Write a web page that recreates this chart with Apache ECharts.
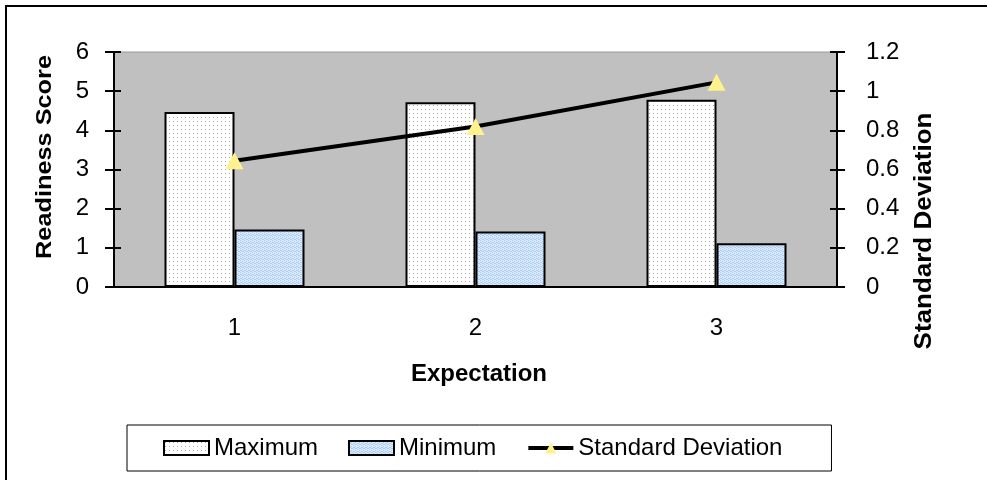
<!DOCTYPE html>
<html>
<head>
<meta charset="utf-8">
<script src="https://cdn.jsdelivr.net/npm/echarts@6/dist/echarts.min.js"></script>
<style>
  html, body { margin: 0; padding: 0; background: #fff; }
  #chart { width: 987px; height: 480px; }
</style>
</head>
<body>
<div id="chart"></div>
<script>
// Chart data
const categories = ['1', '2', '3'];
const maximumValues = [4.47, 4.72, 4.78];
const minimumValues = [1.47, 1.42, 1.12];
const stdDevValues = [0.645, 0.82, 1.045];
const leftTicks = { min: 0, max: 6, interval: 1 };
const rightTicks = { min: 0, max: 1.2, interval: 0.2 };

const FONT = '"Liberation Sans", Arial, sans-serif';

// Small repeating fill patterns for the bars
function makePattern(w, h, bg, dot, cells) {
  const c = document.createElement('canvas');
  c.width = w; c.height = h;
  const ctx = c.getContext('2d');
  ctx.fillStyle = bg;
  ctx.fillRect(0, 0, w, h);
  ctx.fillStyle = dot;
  cells.forEach(function (p) { ctx.fillRect(p[0], p[1], 1, 1); });
  return { image: c, repeat: 'repeat' };
}
const dottedFill = makePattern(4, 4, '#ffffff', '#a6a6a6', [[1, 1]]);
const blueFill = makePattern(4, 4, '#dbeafc', '#a9cdf6', [[0, 0], [2, 1], [1, 2], [3, 3], [0, 2], [2, 3]]);

const chart = echarts.init(document.getElementById('chart'), null, { renderer: 'canvas' });

const tickLabelStyle = { color: '#000', fontSize: 24, fontFamily: FONT };

chart.setOption({
  animation: false,
  backgroundColor: '#ffffff',
  grid: {
    left: 114, right: 150, top: 52, bottom: 193,
    show: true, backgroundColor: '#c0c0c0', borderColor: '#9a9a9a', borderWidth: 1
  },
  legend: {
    left: 127, top: 425,
    padding: [11, 49, 11, 36],
    itemGap: 30,
    itemWidth: 45, itemHeight: 14,
    borderColor: '#000', borderWidth: 1,
    backgroundColor: '#fff',
    textStyle: { color: '#000', fontSize: 24, fontFamily: FONT },
    data: [
      { name: 'Maximum', icon: 'rect', itemStyle: { borderColor: '#000', borderWidth: 2 } },
      { name: 'Minimum', icon: 'rect', itemStyle: { borderColor: '#000', borderWidth: 2 } },
      { name: 'Standard Deviation', lineStyle: { width: 4, color: '#000' } }
    ]
  },
  xAxis: [
    {
      type: 'category', data: categories, position: 'bottom',
      axisLine: { lineStyle: { color: '#000', width: 2 } },
      axisTick: { length: 9, lineStyle: { color: '#000', width: 2 } },
      axisLabel: Object.assign({ margin: 29 }, tickLabelStyle),
      splitLine: { show: false }
    },
    {
      type: 'category', data: categories, position: 'bottom',
      axisLine: { show: false },
      axisTick: { inside: true, length: 8, lineStyle: { color: '#000', width: 2 } },
      axisLabel: { show: false },
      splitLine: { show: false }
    }
  ],
  yAxis: [
    {
      type: 'value', position: 'left',
      min: leftTicks.min, max: leftTicks.max, interval: leftTicks.interval,
      axisLine: { show: true, lineStyle: { color: '#000', width: 2 } },
      axisTick: { show: true, length: 9, lineStyle: { color: '#000', width: 2 } },
      axisLabel: Object.assign({ margin: 25 }, tickLabelStyle),
      splitLine: { show: false }
    },
    {
      type: 'value', position: 'right',
      min: rightTicks.min, max: rightTicks.max, interval: rightTicks.interval,
      axisLine: { show: true, lineStyle: { color: '#000', width: 2 } },
      axisTick: { show: true, length: 8, lineStyle: { color: '#000', width: 2 } },
      axisLabel: Object.assign({ margin: 29, formatter: function (v) { return String(+v.toFixed(1)); } }, tickLabelStyle),
      splitLine: { show: false }
    },
    {
      type: 'value', position: 'left',
      min: leftTicks.min, max: leftTicks.max, interval: leftTicks.interval,
      axisLine: { show: false },
      axisTick: { show: true, inside: true, length: 7, lineStyle: { color: '#000', width: 2 } },
      axisLabel: { show: false },
      splitLine: { show: false }
    },
    {
      type: 'value', position: 'right',
      min: rightTicks.min, max: rightTicks.max, interval: rightTicks.interval,
      axisLine: { show: false },
      axisTick: { show: true, inside: true, length: 7, lineStyle: { color: '#000', width: 2 } },
      axisLabel: { show: false },
      splitLine: { show: false }
    }
  ],
  series: [
    {
      name: 'Maximum', type: 'bar', xAxisIndex: 0, yAxisIndex: 0,
      data: maximumValues,
      barWidth: 70, barGap: '0%',
      itemStyle: { color: dottedFill, borderColor: '#000', borderWidth: 2 },
      z: 2
    },
    {
      name: 'Minimum', type: 'bar', xAxisIndex: 0, yAxisIndex: 0,
      data: minimumValues,
      barWidth: 70, barGap: '0%',
      itemStyle: { color: blueFill, borderColor: '#000', borderWidth: 2 },
      z: 2
    },
    {
      name: 'Standard Deviation', type: 'line', xAxisIndex: 0, yAxisIndex: 1,
      data: stdDevValues,
      symbol: 'triangle', symbolSize: [18, 17], showAllSymbol: true,
      lineStyle: { color: '#000', width: 4 },
      itemStyle: { color: '#fff28c', borderWidth: 0 },
      z: 5
    }
  ],
  graphic: [
    {
      type: 'rect', silent: true, z: 100,
      shape: { x: 6, y: 6, width: 1000, height: 500 },
      style: { fill: 'none', stroke: '#000', lineWidth: 2 }
    },
    {
      type: 'text', silent: true, x: 45, y: 157, rotation: Math.PI / 2,
      style: { text: 'Readiness Score', fill: '#000', font: 'bold 22px ' + FONT, textAlign: 'center', textVerticalAlign: 'middle' },
      scaleX: 1.15
    },
    {
      type: 'text', silent: true, x: 925, y: 231, rotation: Math.PI / 2,
      style: { text: 'Standard Deviation', fill: '#000', font: 'bold 23px ' + FONT, textAlign: 'center', textVerticalAlign: 'middle' },
      scaleX: 1.13
    },
    {
      type: 'text', silent: true, x: 479, y: 374,
      style: { text: 'Expectation', fill: '#000', font: 'bold 24px ' + FONT, textAlign: 'center', textVerticalAlign: 'middle' }
    }
  ]
});
</script>
</body>
</html>
